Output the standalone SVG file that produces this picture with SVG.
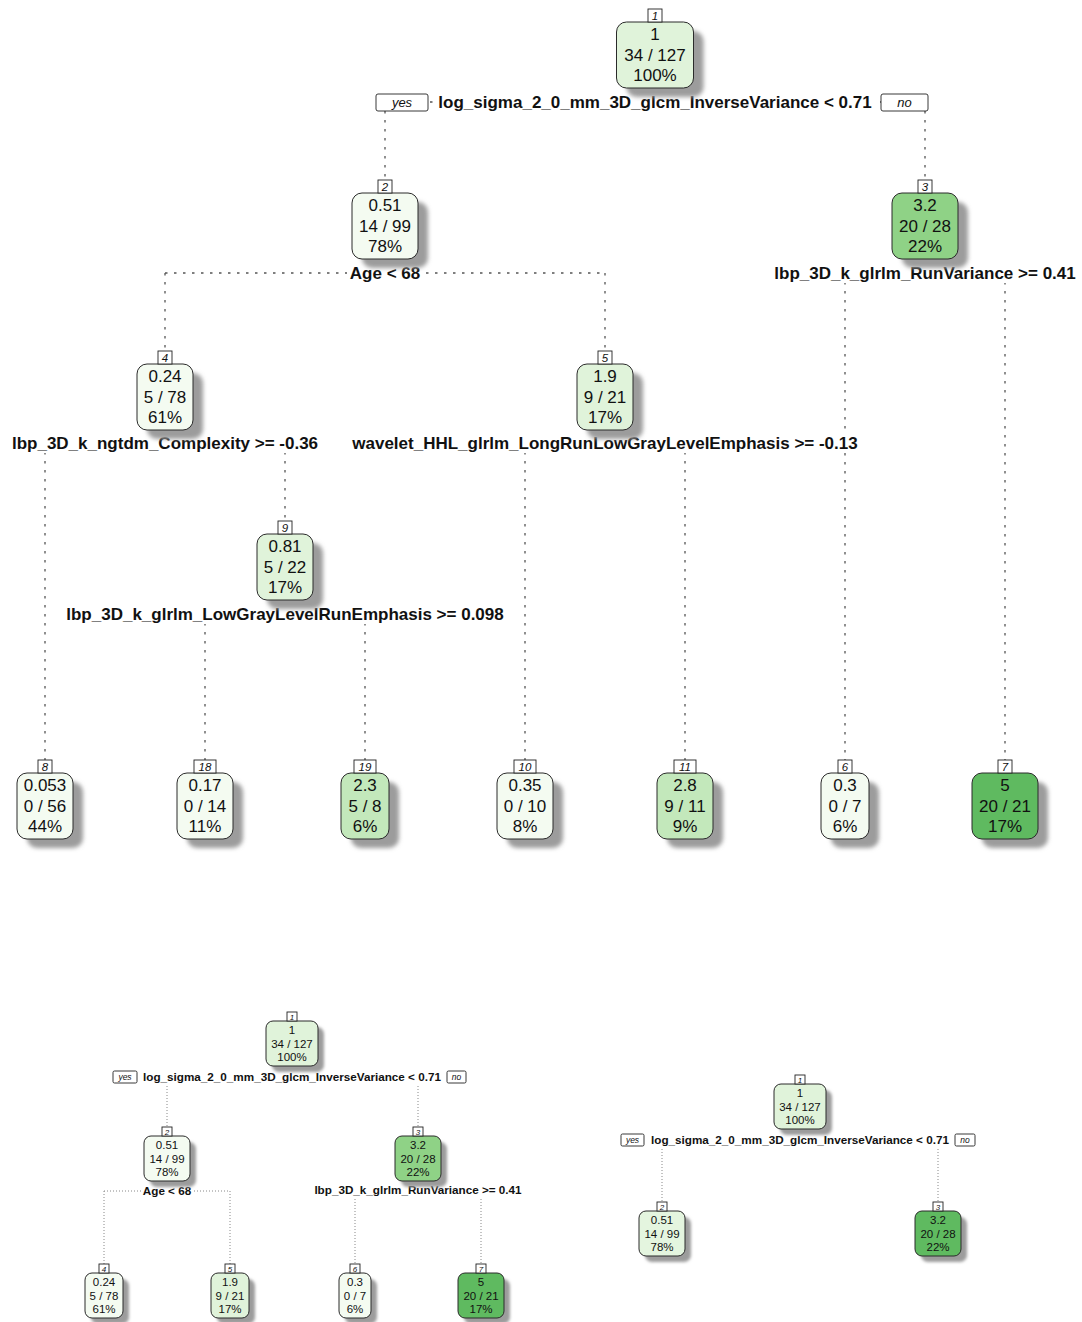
<svg xmlns="http://www.w3.org/2000/svg" width="1082" height="1322" viewBox="0 0 1082 1322">
<defs>
<filter id="blur" x="-20%" y="-20%" width="140%" height="140%"><feGaussianBlur stdDeviation="2.2"/></filter>
<filter id="blurs" x="-20%" y="-20%" width="140%" height="140%"><feGaussianBlur stdDeviation="1.4"/></filter>
</defs>
<style>
text{font-family:"Liberation Sans",Arial,sans-serif;fill:#111;text-anchor:middle}
.t{font-size:17px}
.ts{font-size:11.5px}
.sp{font-size:17px;font-weight:bold}
.sps{font-size:11.7px;font-weight:bold}
.num{font-size:11.5px;font-style:italic}
.nums{font-size:8px;font-style:italic}
.yn{font-size:13px;font-style:italic}
.yns{font-size:8.5px;font-style:italic}
.box{stroke:#2a2a2a;stroke-width:1}
.shd{fill:#9c9c9c;filter:url(#blur)}
.shds{fill:#9c9c9c;filter:url(#blurs)}
.nb{fill:#fff;stroke:#222;stroke-width:0.9}
.bg{fill:#fff}
.l1{fill:#F4FBF1}
.l2{fill:#E0F3DA}
.l2b{fill:#E4F5DF}
.l3{fill:#C3E8BB}
.g3{fill:#8FD286}
.g5{fill:#5FBA60}
.br{stroke:#555;stroke-width:1.3;stroke-dasharray:2.5 6.5;fill:none}
.brs{stroke:#888;stroke-width:1;stroke-dasharray:1 2;fill:none}
</style>
<rect width="1082" height="1322" fill="#fff"/>

<g id="connectors">
<path class="br" d="M385,102 H925 M385,102 V180 M925,102 V180"/>
<path class="br" d="M165,273 H605 M165,273 V351 M605,273 V351"/>
<path class="br" d="M845,273 H1005 M845,273 V760 M1005,273 V760"/>
<path class="br" d="M45,443 H285 M45,443 V760 M285,443 V521"/>
<path class="br" d="M525,443 H685 M525,443 V760 M685,443 V760"/>
<path class="br" d="M205,614 H365 M205,614 V760 M365,614 V760"/>
<path class="brs" d="M167,1077 H418 M167,1077 V1127 M418,1077 V1127"/>
<path class="brs" d="M104,1191 H230 M104,1191 V1264 M230,1191 V1264"/>
<path class="brs" d="M355,1190 H481 M355,1190 V1264 M481,1190 V1264"/>
<path class="brs" d="M662,1140 H938 M662,1140 V1202 M938,1140 V1202"/>
</g>

<g id="labels">
<rect class="bg" x="436" y="92" width="438" height="20"/>
<text class="sp" x="655" y="108">log_sigma_2_0_mm_3D_glcm_InverseVariance &lt; 0.71</text>
<rect class="nb" x="376" y="94" width="52" height="17" rx="2"/>
<text class="yn" x="402" y="107">yes</text>
<rect class="nb" x="881" y="94" width="47" height="17" rx="2"/>
<text class="yn" x="904.5" y="107">no</text>

<rect class="bg" x="347" y="263" width="76" height="20"/>
<text class="sp" x="385" y="279">Age &lt; 68</text>
<rect class="bg" x="773" y="263" width="304" height="20"/>
<text class="sp" x="925" y="279">lbp_3D_k_glrlm_RunVariance &gt;= 0.41</text>
<rect class="bg" x="10" y="433" width="310" height="20"/>
<text class="sp" x="165" y="449">lbp_3D_k_ngtdm_Complexity &gt;= -0.36</text>
<rect class="bg" x="350" y="433" width="510" height="20"/>
<text class="sp" x="605" y="449">wavelet_HHL_glrlm_LongRunLowGrayLevelEmphasis &gt;= -0.13</text>
<rect class="bg" x="64" y="604" width="442" height="20"/>
<text class="sp" x="285" y="620">lbp_3D_k_glrlm_LowGrayLevelRunEmphasis &gt;= 0.098</text>

<rect class="bg" x="141" y="1070" width="302" height="14"/>
<text class="sps" x="292" y="1081">log_sigma_2_0_mm_3D_glcm_InverseVariance &lt; 0.71</text>
<rect class="nb" x="113" y="1071" width="24" height="12" rx="1.5"/>
<text class="yns" x="125" y="1080">yes</text>
<rect class="nb" x="447" y="1071" width="19" height="12" rx="1.5"/>
<text class="yns" x="456.5" y="1080">no</text>
<rect class="bg" x="141" y="1184" width="52" height="14"/>
<text class="sps" x="167" y="1195">Age &lt; 68</text>
<rect class="bg" x="313" y="1183" width="210" height="14"/>
<text class="sps" x="418" y="1194">lbp_3D_k_glrlm_RunVariance &gt;= 0.41</text>

<rect class="bg" x="648" y="1133" width="304" height="14"/>
<text class="sps" x="800" y="1144">log_sigma_2_0_mm_3D_glcm_InverseVariance &lt; 0.71</text>
<rect class="nb" x="621" y="1134" width="23" height="12" rx="1.5"/>
<text class="yns" x="632.5" y="1143">yes</text>
<rect class="nb" x="955" y="1134" width="20" height="12" rx="1.5"/>
<text class="yns" x="965" y="1143">no</text>
</g>

<g id="node1">
<rect class="shd" x="626.5" y="31" width="77" height="66" rx="10"/>
<rect class="box l2" x="616.5" y="22" width="77" height="66" rx="10"/>
<rect class="nb" x="648" y="9" width="14" height="13"/>
<text class="num" x="655" y="19.5">1</text>
<text class="t" x="655" y="40">1</text><text class="t" x="655" y="60.5">34 / 127</text><text class="t" x="655" y="81">100%</text>
</g>
<g id="node2">
<rect class="shd" x="362" y="202" width="66" height="66" rx="10"/>
<rect class="box l1" x="352" y="193" width="66" height="66" rx="10"/>
<rect class="nb" x="378" y="180" width="14" height="13"/>
<text class="num" x="385" y="190.5">2</text>
<text class="t" x="385" y="211">0.51</text><text class="t" x="385" y="231.5">14 / 99</text><text class="t" x="385" y="252">78%</text>
</g>
<g id="node3">
<rect class="shd" x="902" y="202" width="66" height="66" rx="10"/>
<rect class="box g3" x="892" y="193" width="66" height="66" rx="10"/>
<rect class="nb" x="918" y="180" width="14" height="13"/>
<text class="num" x="925" y="190.5">3</text>
<text class="t" x="925" y="211">3.2</text><text class="t" x="925" y="231.5">20 / 28</text><text class="t" x="925" y="252">22%</text>
</g>
<g id="node4">
<rect class="shd" x="147" y="373" width="56" height="66" rx="10"/>
<rect class="box l1" x="137" y="364" width="56" height="66" rx="10"/>
<rect class="nb" x="158" y="351" width="14" height="13"/>
<text class="num" x="165" y="361.5">4</text>
<text class="t" x="165" y="382">0.24</text><text class="t" x="165" y="402.5">5 / 78</text><text class="t" x="165" y="423">61%</text>
</g>
<g id="node5">
<rect class="shd" x="587" y="373" width="56" height="66" rx="10"/>
<rect class="box l2" x="577" y="364" width="56" height="66" rx="10"/>
<rect class="nb" x="598" y="351" width="14" height="13"/>
<text class="num" x="605" y="361.5">5</text>
<text class="t" x="605" y="382">1.9</text><text class="t" x="605" y="402.5">9 / 21</text><text class="t" x="605" y="423">17%</text>
</g>
<g id="node9">
<rect class="shd" x="267" y="543" width="56" height="66" rx="10"/>
<rect class="box l2" x="257" y="534" width="56" height="66" rx="10"/>
<rect class="nb" x="278" y="521" width="14" height="13"/>
<text class="num" x="285" y="531.5">9</text>
<text class="t" x="285" y="552">0.81</text><text class="t" x="285" y="572.5">5 / 22</text><text class="t" x="285" y="593">17%</text>
</g>
<g id="node8">
<rect class="shd" x="27" y="782" width="56" height="66" rx="10"/>
<rect class="box l1" x="17" y="773" width="56" height="66" rx="10"/>
<rect class="nb" x="38" y="760" width="14" height="13"/>
<text class="num" x="45" y="770.5">8</text>
<text class="t" x="45" y="791">0.053</text><text class="t" x="45" y="811.5">0 / 56</text><text class="t" x="45" y="832">44%</text>
</g>
<g id="node18">
<rect class="shd" x="187" y="782" width="56" height="66" rx="10"/>
<rect class="box l1" x="177" y="773" width="56" height="66" rx="10"/>
<rect class="nb" x="194" y="760" width="22" height="13"/>
<text class="num" x="205" y="770.5">18</text>
<text class="t" x="205" y="791">0.17</text><text class="t" x="205" y="811.5">0 / 14</text><text class="t" x="205" y="832">11%</text>
</g>
<g id="node19">
<rect class="shd" x="351" y="782" width="48" height="66" rx="10"/>
<rect class="box l3" x="341" y="773" width="48" height="66" rx="10"/>
<rect class="nb" x="354" y="760" width="22" height="13"/>
<text class="num" x="365" y="770.5">19</text>
<text class="t" x="365" y="791">2.3</text><text class="t" x="365" y="811.5">5 / 8</text><text class="t" x="365" y="832">6%</text>
</g>
<g id="node10">
<rect class="shd" x="507" y="782" width="56" height="66" rx="10"/>
<rect class="box l1" x="497" y="773" width="56" height="66" rx="10"/>
<rect class="nb" x="514" y="760" width="22" height="13"/>
<text class="num" x="525" y="770.5">10</text>
<text class="t" x="525" y="791">0.35</text><text class="t" x="525" y="811.5">0 / 10</text><text class="t" x="525" y="832">8%</text>
</g>
<g id="node11">
<rect class="shd" x="667" y="782" width="56" height="66" rx="10"/>
<rect class="box l3" x="657" y="773" width="56" height="66" rx="10"/>
<rect class="nb" x="674" y="760" width="22" height="13"/>
<text class="num" x="685" y="770.5">11</text>
<text class="t" x="685" y="791">2.8</text><text class="t" x="685" y="811.5">9 / 11</text><text class="t" x="685" y="832">9%</text>
</g>
<g id="node6">
<rect class="shd" x="831" y="782" width="48" height="66" rx="10"/>
<rect class="box l1" x="821" y="773" width="48" height="66" rx="10"/>
<rect class="nb" x="838" y="760" width="14" height="13"/>
<text class="num" x="845" y="770.5">6</text>
<text class="t" x="845" y="791">0.3</text><text class="t" x="845" y="811.5">0 / 7</text><text class="t" x="845" y="832">6%</text>
</g>
<g id="node7">
<rect class="shd" x="982" y="782" width="66" height="66" rx="10"/>
<rect class="box g5" x="972" y="773" width="66" height="66" rx="10"/>
<rect class="nb" x="998" y="760" width="14" height="13"/>
<text class="num" x="1005" y="770.5">7</text>
<text class="t" x="1005" y="791">5</text><text class="t" x="1005" y="811.5">20 / 21</text><text class="t" x="1005" y="832">17%</text>
</g>

<g id="bl-node1">
<rect class="shds" x="272" y="1027" width="52" height="45" rx="7"/>
<rect class="box l2" x="266" y="1021" width="52" height="45" rx="7"/>
<rect class="nb" x="287" y="1012" width="10" height="9"/>
<text class="nums" x="292" y="1019.5">1</text>
<text class="ts" x="292" y="1034">1</text><text class="ts" x="292" y="1047.5">34 / 127</text><text class="ts" x="292" y="1061">100%</text>
</g>
<g id="bl-node2">
<rect class="shds" x="150" y="1142" width="46" height="45" rx="7"/>
<rect class="box l1" x="144" y="1136" width="46" height="45" rx="7"/>
<rect class="nb" x="162" y="1127" width="10" height="9"/>
<text class="nums" x="167" y="1134.5">2</text>
<text class="ts" x="167" y="1149">0.51</text><text class="ts" x="167" y="1162.5">14 / 99</text><text class="ts" x="167" y="1176">78%</text>
</g>
<g id="bl-node3">
<rect class="shds" x="401" y="1142" width="46" height="45" rx="7"/>
<rect class="box g3" x="395" y="1136" width="46" height="45" rx="7"/>
<rect class="nb" x="413" y="1127" width="10" height="9"/>
<text class="nums" x="418" y="1134.5">3</text>
<text class="ts" x="418" y="1149">3.2</text><text class="ts" x="418" y="1162.5">20 / 28</text><text class="ts" x="418" y="1176">22%</text>
</g>
<g id="bl-node4">
<rect class="shds" x="91" y="1279" width="38" height="45" rx="7"/>
<rect class="box l1" x="85" y="1273" width="38" height="45" rx="7"/>
<rect class="nb" x="99" y="1264" width="10" height="9"/>
<text class="nums" x="104" y="1271.5">4</text>
<text class="ts" x="104" y="1286">0.24</text><text class="ts" x="104" y="1299.5">5 / 78</text><text class="ts" x="104" y="1313">61%</text>
</g>
<g id="bl-node5">
<rect class="shds" x="217" y="1279" width="38" height="45" rx="7"/>
<rect class="box l2" x="211" y="1273" width="38" height="45" rx="7"/>
<rect class="nb" x="225" y="1264" width="10" height="9"/>
<text class="nums" x="230" y="1271.5">5</text>
<text class="ts" x="230" y="1286">1.9</text><text class="ts" x="230" y="1299.5">9 / 21</text><text class="ts" x="230" y="1313">17%</text>
</g>
<g id="bl-node6">
<rect class="shds" x="345" y="1279" width="32" height="45" rx="7"/>
<rect class="box l1" x="339" y="1273" width="32" height="45" rx="7"/>
<rect class="nb" x="350" y="1264" width="10" height="9"/>
<text class="nums" x="355" y="1271.5">6</text>
<text class="ts" x="355" y="1286">0.3</text><text class="ts" x="355" y="1299.5">0 / 7</text><text class="ts" x="355" y="1313">6%</text>
</g>
<g id="bl-node7">
<rect class="shds" x="464" y="1279" width="46" height="45" rx="7"/>
<rect class="box g5" x="458" y="1273" width="46" height="45" rx="7"/>
<rect class="nb" x="476" y="1264" width="10" height="9"/>
<text class="nums" x="481" y="1271.5">7</text>
<text class="ts" x="481" y="1286">5</text><text class="ts" x="481" y="1299.5">20 / 21</text><text class="ts" x="481" y="1313">17%</text>
</g>

<g id="br-node1">
<rect class="shds" x="780" y="1090" width="52" height="45" rx="7"/>
<rect class="box l2" x="774" y="1084" width="52" height="45" rx="7"/>
<rect class="nb" x="795" y="1075" width="10" height="9"/>
<text class="nums" x="800" y="1082.5">1</text>
<text class="ts" x="800" y="1097">1</text><text class="ts" x="800" y="1110.5">34 / 127</text><text class="ts" x="800" y="1124">100%</text>
</g>
<g id="br-node2">
<rect class="shds" x="645" y="1217" width="46" height="45" rx="7"/>
<rect class="box l2b" x="639" y="1211" width="46" height="45" rx="7"/>
<rect class="nb" x="657" y="1202" width="10" height="9"/>
<text class="nums" x="662" y="1209.5">2</text>
<text class="ts" x="662" y="1224">0.51</text><text class="ts" x="662" y="1237.5">14 / 99</text><text class="ts" x="662" y="1251">78%</text>
</g>
<g id="br-node3">
<rect class="shds" x="921" y="1217" width="46" height="45" rx="7"/>
<rect class="box g5" x="915" y="1211" width="46" height="45" rx="7"/>
<rect class="nb" x="933" y="1202" width="10" height="9"/>
<text class="nums" x="938" y="1209.5">3</text>
<text class="ts" x="938" y="1224">3.2</text><text class="ts" x="938" y="1237.5">20 / 28</text><text class="ts" x="938" y="1251">22%</text>
</g>
</svg>
